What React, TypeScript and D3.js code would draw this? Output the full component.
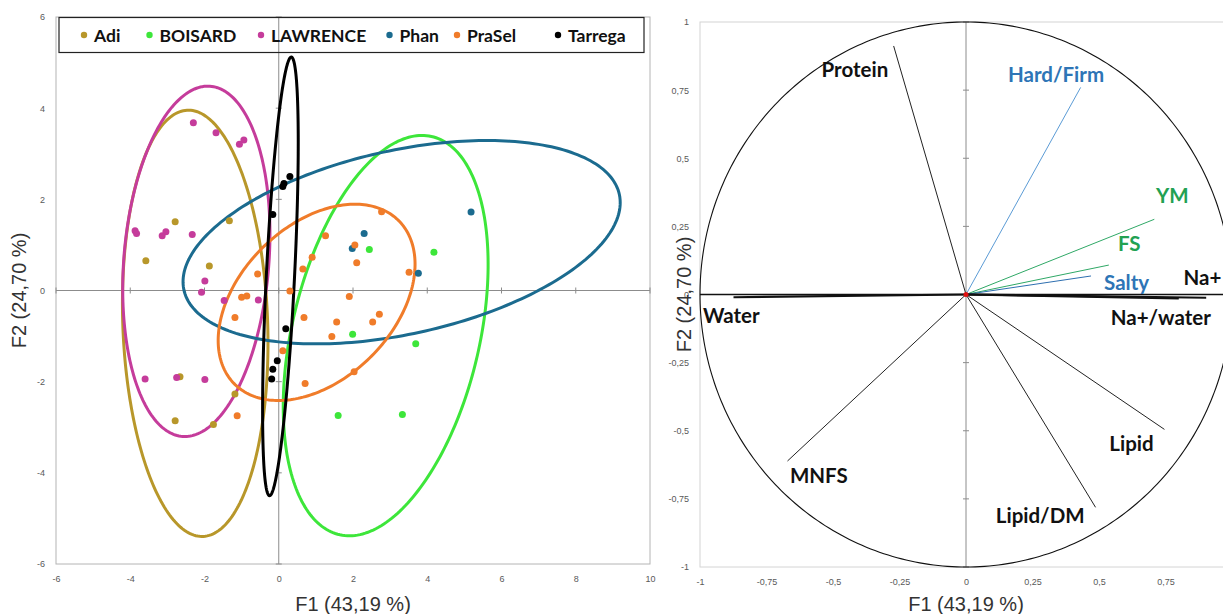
import React, { useEffect, useRef } from 'react';
import * as d3 from 'd3';

// ---- individuals (left panel) ----
const groups = ['Adi', 'BOISARD', 'LAWRENCE', 'Phan', 'PraSel', 'Tarrega'];
const groupColors = ['#b8972a', '#3de63a', '#c53c9b', '#1b6b8f', '#f07c2a', '#000000'];

const adiPts: [number, number][] = [
  [-2.79, 1.51], [-1.33, 1.53], [-3.58, 0.65], [-1.87, 0.54],
  [-2.66, -1.89], [-2.79, -2.86], [-1.18, -2.27], [-1.76, -2.94],
];
const boisardPts: [number, number][] = [
  [2.44, 0.9], [4.18, 0.84], [1.99, -0.96], [3.69, -1.17], [1.6, -2.74], [3.33, -2.72],
];
const lawrencePts: [number, number][] = [
  [-2.3, 3.68], [-1.69, 3.46], [-1.06, 3.21], [-0.94, 3.3], [-3.87, 1.31], [-3.83, 1.25],
  [-3.14, 1.2], [-3.04, 1.29], [-2.33, 1.23], [-1.99, 0.21], [-2.08, -0.04], [-1.47, -0.22],
  [-0.55, -0.21], [-3.6, -1.94], [-2.75, -1.91], [-1.99, -1.95],
];
const phanPts: [number, number][] = [
  [2.3, 1.25], [1.98, 0.92], [3.76, 0.38], [5.18, 1.72],
];
const praselPts: [number, number][] = [
  [-0.57, 0.36], [-1.0, -0.15], [-0.86, -0.12], [-1.18, -0.59], [0.3, -0.01], [0.65, 0.47],
  [0.9, 0.73], [0.68, -0.59], [1.26, 1.2], [2.77, 1.73], [2.05, 1.0], [2.1, 0.61],
  [3.51, 0.4], [1.9, -0.13], [1.56, -0.69], [2.53, -0.69], [2.71, -0.52], [1.43, -1.01],
  [0.11, -1.32], [2.03, -1.78], [0.71, -2.04], [-1.12, -2.75],
];
const tarregaPts: [number, number][] = [
  [0.3, 2.5], [0.14, 2.35], [0.11, 2.28], [-0.16, 1.67], [0.19, -0.84], [-0.04, -1.54],
  [-0.16, -1.73], [-0.19, -1.94],
];
const groupPts = [adiPts, boisardPts, lawrencePts, phanPts, praselPts, tarregaPts];

// confidence ellipses: centre F1, centre F2, semi-major, semi-minor, angle of major axis (deg)
const ellipses: [number, number, number, number, number][] = [
  [-2.25, -0.72, 4.68, 1.95, 92.7],
  [2.88, -0.99, 4.55, 2.49, 71.8],
  [-2.22, 0.64, 3.86, 1.95, 83.8],
  [3.31, 1.06, 5.96, 2.03, 9.5],
  [1.02, -0.26, 2.89, 1.82, 30.8],
  [0.045, 0.31, 4.82, 0.38, 86.5],
];

const leftXTicks = [-6, -4, -2, 0, 2, 4, 6, 8, 10];
const leftYTicks = [-6, -4, -2, 0, 2, 4, 6];

// ---- variables (right panel) ----
const varNames = ['Protein', 'Hard/Firm', 'YM', 'FS', 'Salty', 'Na+', 'Na+/water', 'Water', 'MNFS', 'Lipid', 'Lipid/DM'];
const varF1 = [-0.272, 0.431, 0.708, 0.537, 0.47, 0.903, 0.8, -0.874, -0.671, 0.746, 0.487];
const varF2 = [0.912, 0.76, 0.276, 0.108, 0.068, -0.012, -0.014, -0.01, -0.611, -0.495, -0.781];
const varLineColors = ['#222', '#5b9bd5', '#2fa866', '#2fa866', '#2e6fb0', '#111', '#111', '#111', '#222', '#222', '#222'];
const varLabelColors = ['#111', '#2e75b6', '#22a152', '#22a152', '#2e75b6', '#111', '#111', '#111', '#111', '#111', '#111'];
const labelF1 = [-0.543, 0.158, 0.714, 0.571, 0.519, 0.818, 0.544, -0.989, -0.662, 0.539, 0.112];
const labelF2 = [0.798, 0.78, 0.336, 0.16, 0.017, 0.035, -0.112, -0.105, -0.691, -0.573, -0.839];

const rightTicks = d3.range(-1, 1.001, 0.25);

const legendDotX = [84, 149.5, 261, 389.5, 457, 558];

const W = 1223;
const H = 614;

const App = () => {
  const svgRef = useRef<SVGSVGElement | null>(null);

  useEffect(() => {
    const svg = d3.select(svgRef.current);
    svg.selectAll('*').remove();

    const comma = d3.formatLocale({ decimal: ',', thousands: '.', grouping: [3], currency: ['', ''], minus: '-' }).format('~g');

    // ================= LEFT PANEL =================
    const x = d3.scaleLinear().domain([-6, 10]).range([56, 650]);
    const y = d3.scaleLinear().domain([-6, 6]).range([564, 17]);
    const left = svg.append('g');

    left.append('rect')
      .attr('x', x(-6)).attr('y', y(6))
      .attr('width', x(10) - x(-6)).attr('height', y(-6) - y(6))
      .attr('fill', 'none').attr('stroke', '#b4b4b4');

    // zero lines
    left.append('line').attr('x1', x(-6)).attr('x2', x(10)).attr('y1', y(0)).attr('y2', y(0))
      .attr('stroke', '#8c8c8c');
    left.append('line').attr('x1', x(0)).attr('x2', x(0)).attr('y1', y(6)).attr('y2', y(-6))
      .attr('stroke', '#8c8c8c');
    leftYTicks.forEach(t => {
      left.append('line').attr('x1', x(0) - 3).attr('x2', x(0) + 3).attr('y1', y(t)).attr('y2', y(t))
        .attr('stroke', '#8c8c8c');
    });
    leftXTicks.forEach(t => {
      left.append('line').attr('x1', x(t)).attr('x2', x(t)).attr('y1', y(0) - 3).attr('y2', y(0) + 3)
        .attr('stroke', '#8c8c8c');
    });

    // tick labels via d3 axes
    const xAx = left.append('g').attr('transform', `translate(0,${y(-6) + 9})`)
      .call(d3.axisBottom(x).tickValues(leftXTicks).tickSize(0).tickFormat(d => String(d)));
    const yAx = left.append('g').attr('transform', `translate(${x(-6) - 8},0)`)
      .call(d3.axisLeft(y).tickValues(leftYTicks).tickSize(0).tickFormat(d => String(d)));
    [xAx, yAx].forEach(a => {
      a.select('.domain').remove();
      a.selectAll('text').attr('font-family', 'Liberation Sans, Arial, sans-serif')
        .attr('font-size', 9).attr('fill', '#595959');
    });

    // ellipses
    const eLine = d3.line<[number, number]>().x(d => x(d[0])).y(d => y(d[1])).curve(d3.curveLinearClosed);
    const tSteps = d3.range(0, 2 * Math.PI, Math.PI / 120);
    ellipses.forEach((e, i) => {
      const [cx, cy, a, b, deg] = e;
      const phi = (deg * Math.PI) / 180;
      const pts = tSteps.map(t => [
        cx + a * Math.cos(t) * Math.cos(phi) - b * Math.sin(t) * Math.sin(phi),
        cy + a * Math.cos(t) * Math.sin(phi) + b * Math.sin(t) * Math.cos(phi),
      ] as [number, number]);
      left.append('path').attr('d', eLine(pts))
        .attr('fill', 'none').attr('stroke', groupColors[i]).attr('stroke-width', 3);
    });

    // points
    groupPts.forEach((pts, i) => {
      left.append('g').selectAll('circle').data(pts).join('circle')
        .attr('cx', d => x(d[0])).attr('cy', d => y(d[1])).attr('r', 3.5)
        .attr('fill', groupColors[i]);
    });

    // legend
    const lg = left.append('g');
    lg.append('rect').attr('x', 59).attr('y', 17.5).attr('width', 585).attr('height', 35)
      .attr('fill', 'none').attr('stroke', '#222').attr('stroke-width', 1.2);
    groups.forEach((g, i) => {
      lg.append('circle').attr('cx', legendDotX[i]).attr('cy', 35).attr('r', 3.2).attr('fill', groupColors[i]);
      lg.append('text').attr('x', legendDotX[i] + 10).attr('y', 41.5)
        .attr('font-family', 'Lato, sans-serif').attr('font-weight', 700).attr('font-size', 17.5)
        .attr('fill', '#111').text(g);
    });

    // axis titles
    left.append('text').attr('x', (x(-6) + x(10)) / 2).attr('y', 611)
      .attr('text-anchor', 'middle').attr('font-family', 'Liberation Sans, Arial, sans-serif')
      .attr('font-size', 20).attr('fill', '#333').text('F1 (43,19 %)');
    left.append('text').attr('transform', `translate(26,${y(0)}) rotate(-90)`)
      .attr('text-anchor', 'middle').attr('font-family', 'Liberation Sans, Arial, sans-serif')
      .attr('font-size', 20).attr('fill', '#333').text('F2 (24,70 %)');

    // ================= RIGHT PANEL =================
    const xr = d3.scaleLinear().domain([-1, 1]).range([700, 1232]);
    const yr = d3.scaleLinear().domain([-1, 1]).range([567, 22]);
    const right = svg.append('g');

    right.append('rect')
      .attr('x', xr(-1)).attr('y', yr(1))
      .attr('width', xr(1) - xr(-1)).attr('height', yr(-1) - yr(1))
      .attr('fill', 'none').attr('stroke', '#d4d4d4');

    right.append('line').attr('x1', xr(0)).attr('x2', xr(0)).attr('y1', yr(1)).attr('y2', yr(-1))
      .attr('stroke', '#8c8c8c');
    rightTicks.forEach(t => {
      right.append('line').attr('x1', xr(0) - 3).attr('x2', xr(0) + 3).attr('y1', yr(t)).attr('y2', yr(t))
        .attr('stroke', '#8c8c8c');
    });

    const rxAx = right.append('g').attr('transform', `translate(0,${yr(-1) + 9})`)
      .call(d3.axisBottom(xr).tickValues(rightTicks.slice(0, -1)).tickSize(0).tickFormat(d => comma(+d)));
    const ryAx = right.append('g').attr('transform', `translate(${xr(-1) - 8},0)`)
      .call(d3.axisLeft(yr).tickValues(rightTicks).tickSize(0).tickFormat(d => comma(+d)));
    [rxAx, ryAx].forEach(a => {
      a.select('.domain').remove();
      a.selectAll('text').attr('font-family', 'Liberation Sans, Arial, sans-serif')
        .attr('font-size', 9).attr('fill', '#595959');
    });

    // correlation circle
    const circLine = d3.line<number>().x(t => xr(Math.cos(t))).y(t => yr(Math.sin(t))).curve(d3.curveLinearClosed);
    right.append('path').attr('d', circLine(d3.range(0, 2 * Math.PI, Math.PI / 180)))
      .attr('fill', 'none').attr('stroke', '#111').attr('stroke-width', 1.1);

    // horizontal axis
    right.append('line').attr('x1', xr(-1)).attr('x2', xr(1)).attr('y1', yr(0)).attr('y2', yr(0))
      .attr('stroke', '#111').attr('stroke-width', 1.5);

    // vectors
    varNames.forEach((n, i) => {
      const flat = Math.abs(varF2[i]) < 0.03;
      right.append('line').attr('x1', xr(0)).attr('y1', yr(0))
        .attr('x2', xr(varF1[i])).attr('y2', yr(varF2[i]))
        .attr('stroke', varLineColors[i]).attr('stroke-width', flat ? 2.2 : 1);
      right.append('text').attr('x', xr(labelF1[i])).attr('y', yr(labelF2[i]))
        .attr('font-family', 'Lato, sans-serif').attr('font-weight', 700).attr('font-size', 20.5)
        .attr('fill', varLabelColors[i]).text(n);
    });

    right.append('circle').attr('cx', xr(0)).attr('cy', yr(0)).attr('r', 2.5).attr('fill', '#e01010');

    right.append('text').attr('x', xr(0)).attr('y', 611)
      .attr('text-anchor', 'middle').attr('font-family', 'Liberation Sans, Arial, sans-serif')
      .attr('font-size', 20).attr('fill', '#333').text('F1 (43,19 %)');
    right.append('text').attr('transform', `translate(691,${yr(0)}) rotate(-90)`)
      .attr('text-anchor', 'middle').attr('font-family', 'Liberation Sans, Arial, sans-serif')
      .attr('font-size', 20).attr('fill', '#333').text('F2 (24,70 %)');
  }, []);

  return (
    <div style={{ position: 'absolute', left: 0, top: 0, width: W, height: H, background: '#fff' }}>
      <svg ref={svgRef} width={W} height={H} style={{ display: 'block' }} />
    </div>
  );
};

export default App;
